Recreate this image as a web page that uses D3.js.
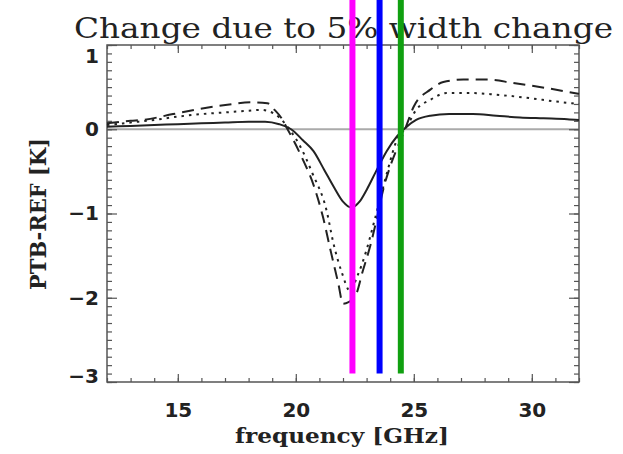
<!DOCTYPE html>
<html>
<head>
<meta charset="utf-8">
<script src="https://d3js.org/d3.v7.min.js"></script>
<style>
  body { margin: 0; background: #fff; }
  .tl text { font-family: "DejaVu Sans", sans-serif; font-weight: bold; font-size: 20px; fill: #222; }
  .tl line, .tm line { stroke: #555; stroke-width: 1.2; }
  .lbl { font-family: "DejaVu Serif", serif; fill: #222; }
</style>
</head>
<body>
<script>
// values
const solidFreq = [12, 13, 14, 15, 16, 17, 18, 18.7, 19.3, 19.8, 20.3, 20.75, 21.2, 21.6, 22.0, 22.35, 22.7, 23.0, 23.4, 23.85, 24.3, 24.7, 25.1, 25.7, 26.5, 27.5, 28.5, 29.5, 30.5, 31.5, 32];
const solidVal = [0.03, 0.04, 0.05, 0.06, 0.07, 0.08, 0.09, 0.09, 0.06, 0.0, -0.13, -0.26, -0.48, -0.68, -0.86, -0.93, -0.86, -0.72, -0.50, -0.26, -0.08, 0.03, 0.11, 0.16, 0.18, 0.18, 0.16, 0.14, 0.13, 0.12, 0.11];

const dotFreq = [12, 13, 14, 15, 16, 17, 18, 18.5, 18.9, 19.3, 19.7, 20.2, 20.7, 21.3, 21.6, 21.95, 22.3, 22.6, 23.0, 23.3, 23.6, 23.9, 24.25, 24.7, 25.1, 25.7, 26.4, 27.4, 28.5, 29.9, 31, 32];
const dotVal = [0.05, 0.08, 0.11, 0.15, 0.18, 0.20, 0.22, 0.23, 0.21, 0.14, 0.01, -0.21, -0.52, -0.96, -1.36, -1.70, -1.92, -1.75, -1.43, -1.12, -0.80, -0.48, -0.15, 0.03, 0.23, 0.35, 0.43, 0.43, 0.41, 0.37, 0.33, 0.30];

const dashFreq = [12, 13, 13.5, 14.8, 15.9, 17.1, 18.1, 18.8, 19.1, 19.4, 19.65, 19.9, 20.3, 20.75, 21.15, 21.45, 21.8, 22.0, 22.5, 22.85, 23.15, 23.45, 23.7, 24.0, 24.3, 24.6, 25.0, 25.7, 26.25, 27.1, 28.1, 29.2, 30.6, 32];
const dashVal = [0.07, 0.10, 0.11, 0.18, 0.24, 0.29, 0.32, 0.31, 0.23, 0.13, 0.0, -0.13, -0.36, -0.66, -1.04, -1.41, -1.83, -2.07, -1.99, -1.67, -1.39, -1.04, -0.72, -0.44, -0.22, -0.02, 0.27, 0.47, 0.56, 0.59, 0.59, 0.55, 0.49, 0.42];

// marker lines (GHz)
const markFreq = [22.4, 23.55, 24.45];
const markColor = ["#ff00ff", "#0000ff", "#10a010"];

const xMajor = [15, 20, 25, 30];
const yMajor = [-3, -2, -1, 0, 1];

const WIDTH = 623, HEIGHT = 454;
const svg = d3.select("body").append("svg")
    .attr("width", WIDTH).attr("height", HEIGHT);

// plot box
const pLeft = 107, pRight = 579, pTop = 45, pBottom = 382;
const x = d3.scaleLinear().domain([12, 32]).range([pLeft, pRight]);
const y = d3.scaleLinear().domain([-3, 1]).range([pBottom, pTop]);

// title
svg.append("text")
    .attr("class", "lbl")
    .attr("x", 74).attr("y", 38)
    .attr("textLength", 539)
    .attr("lengthAdjust", "spacingAndGlyphs")
    .style("font-size", "28px")
    .text("Change due to 5% width change");

// zero line
svg.append("line")
    .attr("x1", x(12)).attr("x2", x(32))
    .attr("y1", y(0)).attr("y2", y(0))
    .style("stroke", "#aaa").style("stroke-width", 2);

// minor ticks, all four sides
const xMinor = d3.range(12, 32.01, 1);
const yMinor = d3.range(-3, 1.001, 0.1);
svg.append("g").attr("class", "tm").attr("transform", "translate(0," + pBottom + ")")
    .call(d3.axisBottom(x).tickValues(xMinor).tickSize(-4).tickFormat(""));
svg.append("g").attr("class", "tm").attr("transform", "translate(0," + pTop + ")")
    .call(d3.axisTop(x).tickValues(xMinor).tickSize(-4).tickFormat(""));
svg.append("g").attr("class", "tm").attr("transform", "translate(" + pLeft + ",0)")
    .call(d3.axisLeft(y).tickValues(yMinor).tickSize(-5).tickFormat(""));
svg.append("g").attr("class", "tm").attr("transform", "translate(" + pRight + ",0)")
    .call(d3.axisRight(y).tickValues(yMinor).tickSize(-5).tickFormat(""));

// major ticks
svg.append("g").attr("class", "tl").attr("transform", "translate(0," + pBottom + ")")
    .call(d3.axisBottom(x).tickValues(xMajor).tickSize(-8).tickPadding(21).tickFormat(d3.format("d")));
svg.append("g").attr("class", "tl").attr("transform", "translate(0," + pTop + ")")
    .call(d3.axisTop(x).tickValues(xMajor).tickSize(-8).tickFormat(""));
const yAx = svg.append("g").attr("class", "tl").attr("transform", "translate(" + pLeft + ",0)")
    .call(d3.axisLeft(y).tickValues(yMajor).tickSize(-10).tickPadding(8).tickFormat(d3.format("d")));
svg.append("g").attr("class", "tl").attr("transform", "translate(" + pRight + ",0)")
    .call(d3.axisRight(y).tickValues(yMajor).tickSize(-10).tickFormat(""));

// end labels sit inside the box, like the original
yAx.selectAll("text")
    .attr("y", d => d === 1 ? 11 : (d === -3 ? -6 : 0));

svg.selectAll(".domain").remove();

// frame
svg.append("rect")
    .attr("x", pLeft).attr("y", pTop)
    .attr("width", pRight - pLeft).attr("height", pBottom - pTop)
    .style("fill", "none").style("stroke", "#555").style("stroke-width", 1.5);

// axis titles
svg.append("text")
    .attr("class", "lbl")
    .attr("x", 235).attr("y", 443)
    .attr("textLength", 214)
    .attr("lengthAdjust", "spacingAndGlyphs")
    .style("font-size", "21px")
    .style("font-weight", "bold")
    .text("frequency [GHz]");

svg.append("text")
    .attr("class", "lbl")
    .attr("transform", "translate(46,290) rotate(-90)")
    .attr("textLength", 152)
    .attr("lengthAdjust", "spacingAndGlyphs")
    .style("font-size", "22px")
    .style("font-weight", "bold")
    .text("PTB-REF [K]");

// curves
const line = d3.line().x(d => x(d[0])).y(d => y(d[1])).curve(d3.curveMonotoneX);
const series = [
    {f: solidFreq, v: solidVal, dash: null},
    {f: dotFreq, v: dotVal, dash: "2.5,5"},
    {f: dashFreq, v: dashVal, dash: "12,7"}
];
series.forEach(s => {
    svg.append("path")
        .datum(s.f.map((f, i) => [f, s.v[i]]))
        .attr("d", line)
        .style("fill", "none")
        .style("stroke", "#222")
        .style("stroke-width", 2)
        .style("stroke-dasharray", s.dash);
});

// coloured marker lines
svg.selectAll(".mark")
    .data(markFreq)
    .enter()
    .append("line")
    .attr("class", "mark")
    .attr("x1", d => x(d)).attr("x2", d => x(d))
    .attr("y1", 0).attr("y2", y(-2.9))
    .style("stroke", (d, i) => markColor[i])
    .style("stroke-width", 6);
</script>
</body>
</html>
